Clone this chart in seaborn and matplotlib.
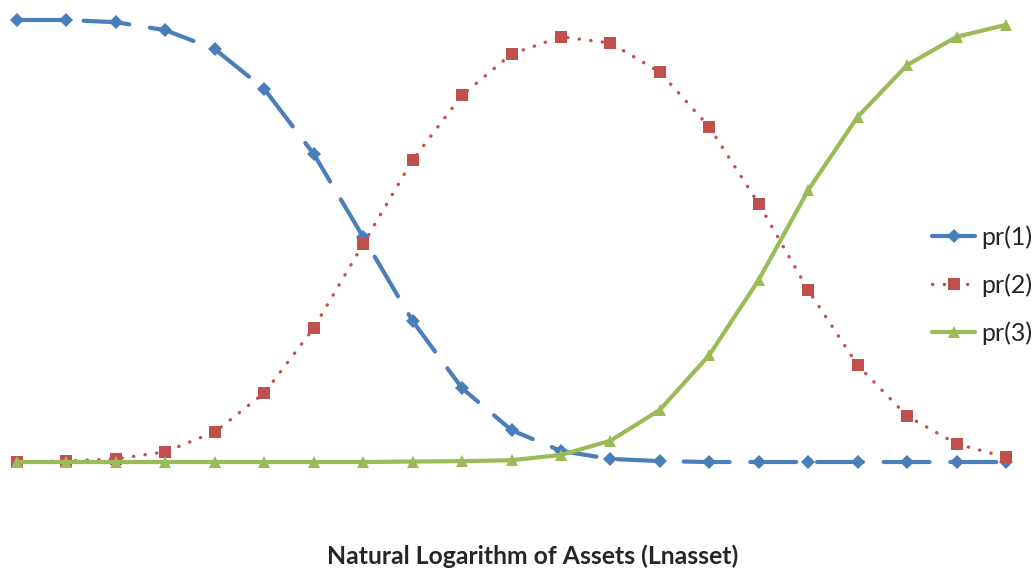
import matplotlib
matplotlib.use('Agg')
import matplotlib.pyplot as plt
import seaborn as sns
import pandas as pd

# x positions along Lnasset (evenly spaced grid of 21 points)
lnasset = [0, 1, 2, 3, 4, 5, 6, 7, 8, 9, 10,
           11, 12, 13, 14, 15, 16, 17, 18, 19, 20]

pr1 = [1.000, 1.000, 0.995, 0.977, 0.934, 0.844, 0.697, 0.509, 0.319, 0.167, 0.072,
       0.025, 0.007, 0.002, 0.000, 0.000, 0.000, 0.000, 0.000, 0.000, 0.000]
pr2 = [0.000, 0.002, 0.007, 0.023, 0.068, 0.156, 0.303, 0.493, 0.683, 0.830, 0.923,
       0.962, 0.948, 0.882, 0.758, 0.584, 0.389, 0.219, 0.104, 0.041, 0.011]
pr3 = [0.000, 0.000, 0.000, 0.000, 0.000, 0.000, 0.000, 0.000, 0.001, 0.002, 0.004,
       0.016, 0.048, 0.118, 0.242, 0.412, 0.615, 0.781, 0.898, 0.962, 0.989]

labels = ['pr(1)', 'pr(2)', 'pr(3)']

sns.set_style('white')
plt.rcParams['font.family'] = ['Lato', 'DejaVu Sans']

fig = plt.figure(figsize=(10.36, 5.69), dpi=100)
ax = fig.add_axes([17 / 1036, 1 - 462 / 569, (1006 - 17) / 1036, (462 - 20) / 569])

df = pd.DataFrame({'x': lnasset, 'pr1': pr1, 'pr2': pr2, 'pr3': pr3})

sns.lineplot(data=df, x='x', y='pr1', ax=ax, color='#4A7EBB', lw=3.0,
             marker='D', markersize=7, markeredgewidth=0, label=labels[0],
             dashes=False, linestyle=(0, (11, 5)), dash_capstyle='round',
             clip_on=False)
sns.lineplot(data=df, x='x', y='pr2', ax=ax, color='#C0504D', lw=2.4,
             marker='s', markersize=8, markeredgewidth=0, label=labels[1],
             dashes=False, linestyle=(0, (0.1, 3.4)), dash_capstyle='round',
             clip_on=False)
sns.lineplot(data=df, x='x', y='pr3', ax=ax, color='#9BBB59', lw=3.0,
             marker='^', markersize=8, markeredgewidth=0, label=labels[2],
             clip_on=False)

ax.set_xlim(0, 20)
ax.set_ylim(0, 1)
ax.set_xticks([])
ax.set_yticks([])
ax.set_xlabel('')
ax.set_ylabel('')
sns.despine(ax=ax, left=True, bottom=True)

ax.legend(loc='center left', bbox_to_anchor=(932 / 1036, 1 - 285 / 569),
          bbox_transform=fig.transFigure, frameon=False, fontsize=18,
          borderpad=0, borderaxespad=0,
          handlelength=1.72, handletextpad=0.24, labelspacing=0.97)

fig.text(533 / 1036, 1 - 556 / 569, 'Natural Logarithm of Assets (Lnasset)',
         ha='center', va='center', fontsize=17.8, fontweight='bold')

fig.savefig('out.png', dpi=100)
